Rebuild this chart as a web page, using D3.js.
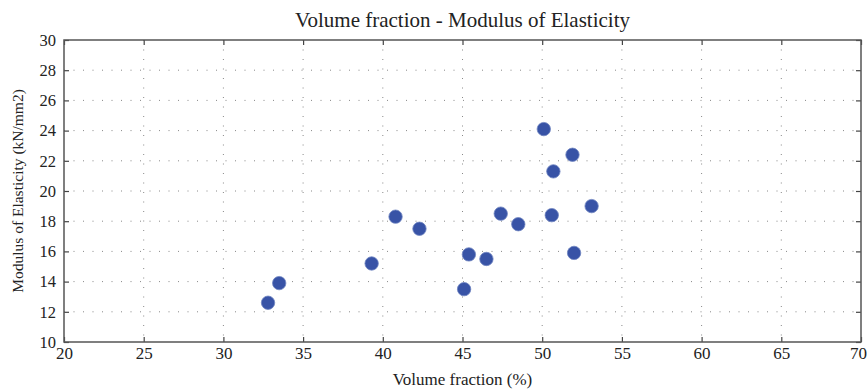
<!DOCTYPE html>
<html>
<head>
<meta charset="utf-8">
<script src="https://cdn.jsdelivr.net/npm/d3@7"></script>
<style>
  body { margin: 0; background: #fff; }
  svg text { font-family: "Liberation Serif", "DejaVu Serif", serif; fill: #222; }
</style>
</head>
<body>
<div class="chart"></div>
<script>
const volumeFraction = [32.8, 33.5, 39.3, 40.8, 42.3, 45.1, 45.4, 46.5, 47.4, 48.5, 50.1, 50.7, 50.6, 51.9, 52.0, 53.1];
const modulus        = [12.6, 13.9, 15.2, 18.3, 17.5, 13.5, 15.8, 15.5, 18.5, 17.8, 24.1, 21.3, 18.4, 22.4, 15.9, 19.0];
const xTicks = [20, 25, 30, 35, 40, 45, 50, 55, 60, 65, 70];
const yTicks = [10, 12, 14, 16, 18, 20, 22, 24, 26, 28, 30];

const width  = 868;
const height = 390;
const margin = { top: 40, right: 7, bottom: 48, left: 64 };

const svg = d3.select('.chart')
  .append('svg').attr('width', width).attr('height', height);

const x = d3.scaleLinear().domain([20, 70]).range([margin.left, width - margin.right]);
const y = d3.scaleLinear().domain([10, 30]).range([height - margin.bottom, margin.top]);

// dotted grid
svg.append('g')
  .selectAll('line')
  .data(xTicks.slice(1, -1)).enter().append('line')
  .attr('x1', d => x(d)).attr('x2', d => x(d))
  .attr('y1', y(30)).attr('y2', y(10))
  .attr('stroke', '#888').attr('stroke-width', 1)
  .attr('stroke-dasharray', '1,8.5');

svg.append('g')
  .selectAll('line')
  .data(yTicks.slice(1, -1)).enter().append('line')
  .attr('x1', x(20)).attr('x2', x(70))
  .attr('y1', d => y(d)).attr('y2', d => y(d))
  .attr('stroke', '#888').attr('stroke-width', 1)
  .attr('stroke-dasharray', '1,8.5');

// axes with inward ticks on all sides
function styleAxis(size) {
  return g => {
    g.select('.domain').remove();
    g.selectAll('.tick line').attr('stroke', '#444').attr('stroke-width', 1.2);
    g.selectAll('.tick text').style('font-size', size + 'px').style('font-family', '"Liberation Serif", serif').attr('fill', '#222');
  };
}

const bottomAxis = svg.append('g')
  .attr('transform', `translate(0,${y(10)})`)
  .call(d3.axisBottom(x).tickValues(xTicks).tickSize(-5).tickPadding(5))
  .call(styleAxis(17));

// keep the last label inside the window
bottomAxis.selectAll('.tick text').filter(d => d === 70).attr('dx', -3);

svg.append('g')
  .attr('transform', `translate(0,${y(30)})`)
  .call(d3.axisTop(x).tickValues(xTicks).tickSize(-5).tickFormat(''))
  .call(styleAxis(17));

svg.append('g')
  .attr('transform', `translate(${x(20)},0)`)
  .call(d3.axisLeft(y).tickValues(yTicks).tickSize(-5).tickPadding(8))
  .call(styleAxis(16.5));

svg.append('g')
  .attr('transform', `translate(${x(70)},0)`)
  .call(d3.axisRight(y).tickValues(yTicks).tickSize(-5).tickFormat(''))
  .call(styleAxis(16.5));

// frame
svg.append('rect')
  .attr('x', x(20)).attr('y', y(30))
  .attr('width', x(70) - x(20)).attr('height', y(10) - y(30))
  .attr('fill', 'none').attr('stroke', '#555').attr('stroke-width', 1.5);

// points
svg.append('g')
  .selectAll('circle')
  .data(volumeFraction.map((v, i) => ({ v, m: modulus[i] }))).enter().append('circle')
  .attr('cx', d => x(d.v))
  .attr('cy', d => y(d.m))
  .attr('r', 6.7)
  .attr('fill', '#3853a6')
  .attr('stroke', '#6f84c0').attr('stroke-width', 0.8);

// titles
svg.append('text')
  .attr('x', (x(20) + x(70)) / 2).attr('y', 27)
  .attr('text-anchor', 'middle')
  .style('font-size', '21px')
  .text('Volume fraction - Modulus of Elasticity');

svg.append('text')
  .attr('x', (x(20) + x(70)) / 2).attr('y', 385)
  .attr('text-anchor', 'middle')
  .style('font-size', '17px')
  .text('Volume fraction (%)');

svg.append('text')
  .attr('transform', `translate(23,${(y(10) + y(30)) / 2}) rotate(-90)`)
  .attr('text-anchor', 'middle')
  .style('font-size', '15.5px')
  .text('Modulus of Elasticity (kN/mm2)');
</script>
</body>
</html>
